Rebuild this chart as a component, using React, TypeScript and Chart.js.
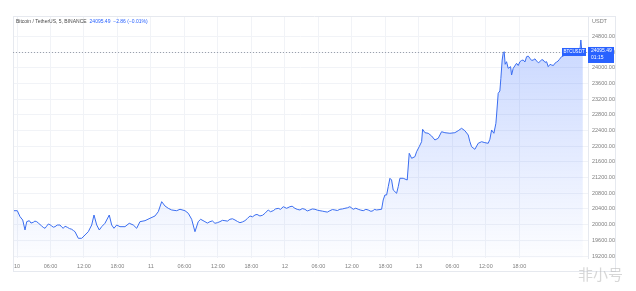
import React, { useEffect, useRef } from "react";
import { Chart, registerables } from "chart.js";

Chart.register(...registerables);

// Hours since 10 Mar 00:00 and BTC/USDT price
const HOURS = [
  -0.66, 0.05, 0.54, 1.02, 1.43, 1.74, 2.2, 2.92, 3.53, 4.42, 5.02, 5.61, 6.22, 6.81, 7.7, 8.29, 9.01, 9.8,
  10.39, 10.98, 11.59, 12.18, 12.77, 13.38, 13.79, 14.28, 14.74, 15.17, 15.76, 16.53, 16.96, 17.37, 17.86,
  18.45, 19.34, 20.11, 20.83, 21.44, 22.03, 22.93, 23.82, 24.72, 25.31, 25.92, 26.51, 27.1, 27.71, 28.6,
  29.2, 30.09, 30.68, 31.29, 31.88, 32.47, 32.9, 33.67, 34.57, 35.46, 36.36, 37.26, 38.15, 39.05, 39.94,
  40.84, 41.73, 42.63, 43.52, 44.42, 45.01, 45.91, 46.8, 47.7, 48.3, 48.9, 49.79, 50.69, 51.58, 52.48,
  53.38, 54.27, 55.17, 56.06, 56.96, 57.85, 58.75, 59.64, 60.24, 61.13, 62.03, 62.92, 63.82, 64.43,
  65.32, 65.61, 65.91, 66.22, 66.51, 66.81, 67.11, 67.4, 68.01, 68.3, 68.6, 69.19, 69.91, 70.27, 70.7,
  71.29, 71.59, 72.06, 72.49, 72.67, 73.08, 73.67, 74.28, 74.87, 75.46, 76.07, 76.66, 77.56, 78.45,
  79.04, 79.65, 80.24, 80.84, 81.14, 81.44, 82.03, 82.63, 83.24, 83.83, 84.42, 84.72, 85.03, 85.44,
  85.8, 85.92, 86.21, 86.51, 86.69, 86.92, 87.1, 87.28, 87.46, 87.71, 88.0, 88.43, 88.61, 88.9, 89.5,
  90.1, 90.69, 91.3, 91.89, 92.48, 93.09, 93.68, 94.27, 94.88, 95.17, 95.77, 96.36, 96.95, 97.56,
  98.15, 98.75, 99.35, 100.25, 100.84, 101.02, 101.2, 101.38,
];
const PRICES = [
  20356, 20356, 20203, 20119, 19864, 20076, 20101, 20060, 20076, 19966, 19907, 20017, 19966, 19948, 19991, 19907, 19933, 19882,
  19820, 19652, 19652, 19736, 19820, 19991, 20246, 19991, 19864, 19948, 20035, 20246, 19991, 19907, 19991,
  19948, 19948, 20035, 19991, 19907, 20076, 20101, 20162, 20221, 20331, 20586, 20476, 20417, 20374, 20356,
  20392, 20356, 20290, 20137, 19820, 20076, 20137, 20076, 20076, 20035, 20076, 20101, 20137, 20119, 20050,
  20101, 20221, 20246, 20221, 20290, 20374, 20356, 20417, 20458, 20417, 20458, 20417, 20374, 20392, 20374,
  20392, 20356, 20331, 20356, 20374, 20392, 20417, 20458, 20392, 20392, 20356, 20374, 20356, 20374,
  20392, 20629, 20757, 20757, 20968, 21183, 21139, 20884, 20800, 20968, 21183, 21183, 21139, 21820, 21693,
  21734, 21861, 21989, 22116, 22433, 22346, 22331, 22262, 22160, 22203, 22371, 22346, 22331, 22346,
  22397, 22458, 22397, 22287, 22116, 21989, 21922, 22076, 22116, 22091, 22076, 22178, 22415, 22331,
  22586, 22797, 23351, 23410, 23734, 24200, 24371, 24412, 24091, 24157, 23989, 24030, 23818, 23989, 24116,
  24157, 24200, 24285, 24244, 24200, 24175, 24157, 24200, 24157, 24030, 24073, 24116, 24175, 24285,
  24346, 24371, 24412, 24412, 24430, 24711, 24412, 24405,
];
// Extra small wiggles
const EXTRA_HOURS = [
  2.5, 3.2, 3.9, 4.7, 5.3, 5.9, 6.5, 7.2, 8.0, 8.6, 9.4, 10.1,
  34.1, 35.0, 35.9, 36.8, 37.7, 38.6, 39.5, 40.4, 41.3, 42.2, 43.0, 44.0, 45.4, 46.3, 47.2, 49.3, 50.2,
  51.1, 52.0, 52.9, 53.8, 54.7, 55.6, 56.5, 57.4, 58.3, 59.2, 60.7, 61.6, 62.5, 63.4, 64.0,
  89.8, 90.4, 91.0, 91.6, 92.2, 92.8, 93.4, 94.0, 94.6, 95.5, 96.1, 96.7, 97.2, 97.9, 98.5, 99.1, 99.8, 100.5,
];
const EXTRA_PRICES = [
  20040, 20090, 20030, 19930, 19960, 20000, 19935, 19990, 19940, 19960, 19900, 19850,
  20040, 20095, 20050, 20110, 20090, 20150, 20080, 20070, 20160, 20200, 20260, 20240, 20330, 20400, 20390, 20470, 20390,
  20410, 20350, 20400, 20370, 20345, 20320, 20385, 20360, 20400, 20430, 20420, 20370, 20390, 20340, 20390,
  24060, 24190, 24150, 24300, 24190, 24230, 24130, 24210, 24140, 24090, 24060, 24150, 24220, 24300, 24320, 24400, 24370, 24440,
];

const Y_STEP = 400;
const Y_TOP_TICK = 24800;
const Y_MIN = 19149;
const Y_MAX = 25323;
const X_MIN = -0.72;
const X_MAX = 102.3;
const X_LAST_LABEL = 90;
const FIRST_DAY = 10;

const SYMBOL = "Bitcoin / TetherUS, 5, BINANCE";
const QUOTE = "24095.49  \u22122.86 (\u22120.01%)";
const LAST_LABEL = "24095.49";
const COUNTDOWN = "01:15";
const TICKER = "BTCUSDT";
const CURRENCY = "USDT";
const WATERMARK = "非小号";

const BLUE = "#2962ff";
const LINE = "#3a6df0";
const FONT = "'Liberation Sans', Arial, sans-serif";

export default function App() {
  const ref = useRef<HTMLCanvasElement | null>(null);

  useEffect(() => {
    const canvas = ref.current;
    if (!canvas) return;

    const points = HOURS.map((h, i) => ({ x: h, y: PRICES[i] }))
      .concat(EXTRA_HOURS.map((h, i) => ({ x: h, y: EXTRA_PRICES[i] })))
      .sort((a, b) => a.x - b.x);
    const lastVal = points[points.length - 1].y;

    const overlay = {
      id: "overlay",
      afterDraw(chart: any) {
        const ctx = chart.ctx;
        const a = chart.chartArea;
        const ys = chart.scales.y;
        const py = ys.getPixelForValue(lastVal);
        ctx.save();
        // frame
        ctx.strokeStyle = "#e6e9ef";
        ctx.lineWidth = 1;
        ctx.beginPath();
        ctx.moveTo(a.left, a.top + 0.5);
        ctx.lineTo(616, a.top + 0.5);
        ctx.moveTo(a.left + 0.5, a.top);
        ctx.lineTo(a.left + 0.5, 272);
        ctx.moveTo(615.5, a.top);
        ctx.lineTo(615.5, 272);
        ctx.moveTo(a.left, 271.5);
        ctx.lineTo(616, 271.5);
        ctx.stroke();
        // header
        ctx.font = `5px ${FONT}`;
        ctx.textBaseline = "middle";
        ctx.textAlign = "left";
        ctx.fillStyle = "#4a4a4a";
        ctx.fillText(SYMBOL, 16, 22);
        const w = ctx.measureText(SYMBOL).width;
        ctx.fillStyle = BLUE;
        ctx.fillText(QUOTE, 16 + w + 3, 22);
        // currency
        ctx.fillStyle = "#808080";
        ctx.font = `5.5px ${FONT}`;
        ctx.fillText(CURRENCY, 592, 21);
        // dashed last price line
        ctx.strokeStyle = "#9aa0ab";
        ctx.setLineDash([1, 2]);
        ctx.beginPath();
        ctx.moveTo(a.left, Math.round(py) + 0.5);
        ctx.lineTo(a.right, Math.round(py) + 0.5);
        ctx.stroke();
        ctx.setLineDash([]);
        // ticker box
        ctx.fillStyle = BLUE;
        ctx.fillRect(562, py - 4, 24, 8);
        ctx.fillStyle = "#fff";
        ctx.font = `4.5px ${FONT}`;
        ctx.textAlign = "center";
        ctx.fillText(TICKER, 574, py);
        // price box
        ctx.fillStyle = BLUE;
        ctx.fillRect(588, py - 5, 26, 16);
        ctx.fillStyle = "#fff";
        ctx.font = `5px ${FONT}`;
        ctx.textAlign = "left";
        ctx.fillText(LAST_LABEL, 591, py - 1);
        ctx.fillText(COUNTDOWN, 591, py + 6);
        // watermark
        ctx.fillStyle = "rgba(175,175,175,0.5)";
        ctx.font = `15px 'Noto Sans CJK SC', sans-serif`;
        ctx.textAlign = "left";
        ctx.textBaseline = "alphabetic";
        ctx.fillText(WATERMARK, 578, 280);
        ctx.restore();
      },
    };

    const chart = new Chart(canvas, {
      type: "line",
      data: {
        datasets: [
          {
            data: points,
            borderColor: LINE,
            borderWidth: 1,
            pointRadius: 0,
            tension: 0,
            fill: "start",
            backgroundColor: (c: any) => {
              const ch = c.chart;
              const a = ch.chartArea;
              if (!a) return "rgba(41,98,255,0.15)";
              const g = ch.ctx.createLinearGradient(0, a.top, 0, a.bottom);
              g.addColorStop(0, "rgba(41,98,255,0.28)");
              g.addColorStop(1, "rgba(41,98,255,0.01)");
              return g;
            },
          },
        ],
      },
      options: {
        responsive: false,
        animation: false,
        layout: { padding: { left: 13, top: 16, right: 0, bottom: 19 } },
        plugins: { legend: { display: false }, tooltip: { enabled: false } },
        scales: {
          x: {
            type: "linear",
            min: X_MIN,
            max: X_MAX,
            afterFit: (s: any) => {
              s.height = 14;
            },
            afterBuildTicks: (s: any) => {
              const out: any[] = [];
              for (let h = 0; h <= X_LAST_LABEL; h += 6) out.push({ value: h });
              s.ticks = out;
            },
            ticks: {
              stepSize: 6,
              includeBounds: false,
              padding: 5,
              maxRotation: 0,
              autoSkip: false,
              color: "#808080",
              font: { size: 5.5, family: FONT },
              callback: (v: any) => {
                const h = Number(v);
                if (h % 24 === 0) return String(FIRST_DAY + h / 24);
                const hh = h % 24;
                return (hh < 10 ? "0" : "") + hh + ":00";
              },
            },
            grid: { color: "#f1f3f7", drawTicks: false },
            border: { display: false },
          },
          y: {
            position: "right",
            min: Y_MIN,
            max: Y_MAX,
            afterFit: (s: any) => {
              s.width = 48;
            },
            afterBuildTicks: (s: any) => {
              const out: any[] = [];
              for (let v = Math.ceil(Y_MIN / Y_STEP) * Y_STEP; v <= Y_TOP_TICK; v += Y_STEP) out.push({ value: v });
              s.ticks = out;
            },
            ticks: {
              stepSize: Y_STEP,
              includeBounds: false,
              padding: 4,
              autoSkip: false,
              color: "#808080",
              font: { size: 5.5, family: FONT },
              callback: (v: any) => Number(v).toFixed(2),
            },
            grid: { color: "#f1f3f7", drawTicks: false },
            border: { display: true, color: "#e6e9ef" },
          },
        },
      },
      plugins: [overlay],
    });

    return () => chart.destroy();
  }, []);

  return (
    <div style={{ position: "absolute", left: 0, top: 0, width: 636, height: 291, background: "#fff" }}>
      <canvas ref={ref} width={636} height={291} />
    </div>
  );
}
